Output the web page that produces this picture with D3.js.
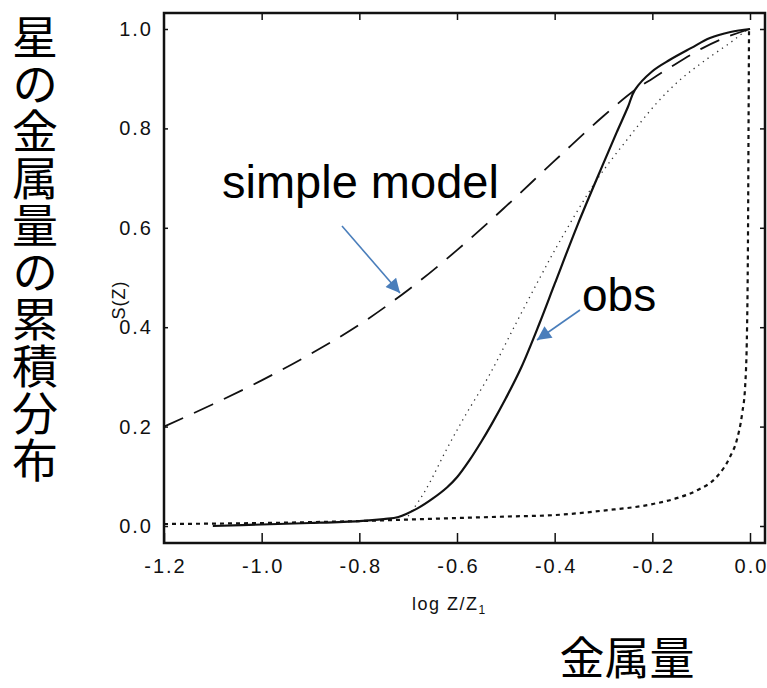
<!DOCTYPE html>
<html>
<head>
<meta charset="utf-8">
<script src="https://cdn.jsdelivr.net/npm/d3@7"></script>
<style>
  html, body { margin: 0; padding: 0; background: #fff; }
  svg { display: block; }
</style>
</head>
<body>
<svg id="chart" width="767" height="688"></svg>
<script>
// ---- data ----
const xTicks = [-1.2, -1.0, -0.8, -0.6, -0.4, -0.2, 0.0];
const xTickLabels = ["-1.2", "-1.0", "-0.8", "-0.6", "-0.4", "-0.2", "0.0"];
const yTicks = [0.0, 0.2, 0.4, 0.6, 0.8, 1.0];
const yTickLabels = ["0.0", "0.2", "0.4", "0.6", "0.8", "1.0"];

// observed (solid)
const obsX = [-1.10, -1.0, -0.9, -0.8, -0.75, -0.72, -0.68, -0.65, -0.62, -0.60, -0.574, -0.55, -0.529, -0.50, -0.468, -0.431, -0.40, -0.353, -0.30, -0.273, -0.25, -0.236, -0.20, -0.164, -0.12, -0.082, -0.04, 0.0];
const obsY = [0.0, 0.003, 0.006, 0.010, 0.014, 0.018, 0.036, 0.055, 0.078, 0.098, 0.133, 0.170, 0.205, 0.257, 0.320, 0.408, 0.487, 0.606, 0.730, 0.792, 0.843, 0.877, 0.915, 0.938, 0.962, 0.982, 0.994, 1.0];

// simple model (long dashes)
const simpleX = [-1.2, -1.1, -1.0, -0.9, -0.8, -0.7, -0.6, -0.5, -0.4, -0.3, -0.236, -0.2, -0.16, -0.1, -0.05, 0.0];
const simpleY = [0.200, 0.245, 0.293, 0.346, 0.405, 0.475, 0.555, 0.643, 0.735, 0.825, 0.877, 0.900, 0.925, 0.960, 0.983, 1.0];

// dotted model
const dotX = [-0.70, -0.677, -0.656, -0.622, -0.585, -0.533, -0.478, -0.43, -0.39, -0.314, -0.252, -0.191, -0.144, -0.096, -0.041, -0.01, 0.0];
const dotY = [0.020, 0.052, 0.087, 0.153, 0.219, 0.305, 0.410, 0.500, 0.572, 0.696, 0.777, 0.851, 0.897, 0.934, 0.972, 0.995, 1.0];

// short-dashed model
const shortX = [-1.2, -1.0, -0.8, -0.7, -0.6, -0.5, -0.4, -0.3, -0.2, -0.15, -0.108, -0.068, -0.041, -0.027, -0.016, -0.010, -0.006, -0.004, -0.003, -0.002];
const shortY = [0.004, 0.006, 0.010, 0.013, 0.016, 0.019, 0.022, 0.031, 0.044, 0.056, 0.072, 0.099, 0.139, 0.173, 0.227, 0.280, 0.400, 0.600, 0.800, 1.0];

// ---- layout ----
const svg = d3.select("#chart");
const x = d3.scaleLinear().domain([-1.2, 0.0]).range([164, 750]);
const y = d3.scaleLinear().domain([0, 1]).range([526, 29]);
const frame = { left: 164, right: 765, top: 13, bottom: 543 };
const tickFont = "'Liberation Sans', Arial, sans-serif";

// axes
const gx = svg.append("g").attr("transform", `translate(0,${frame.bottom})`)
  .call(d3.axisBottom(x).tickValues(xTicks).tickSizeInner(-10).tickSizeOuter(0).tickPadding(16)
    .tickFormat((d, i) => xTickLabels[i]));
const gxt = svg.append("g").attr("transform", `translate(0,${frame.top})`)
  .call(d3.axisTop(x).tickValues(xTicks.slice(1)).tickSizeInner(-7).tickSizeOuter(0).tickFormat(""));
const gy = svg.append("g").attr("transform", `translate(${frame.left},0)`)
  .call(d3.axisLeft(y).tickValues(yTicks).tickSizeInner(-4).tickSizeOuter(0).tickPadding(11)
    .tickFormat((d, i) => yTickLabels[i]));
const gyr = svg.append("g").attr("transform", `translate(${frame.right},0)`)
  .call(d3.axisRight(y).tickValues(yTicks).tickSizeInner(-5).tickSizeOuter(0).tickFormat(""));

[gx, gxt, gy, gyr].forEach(g => {
  g.select(".domain").remove();
  g.selectAll(".tick line").attr("stroke", "#111").attr("stroke-width", 1.5);
  g.selectAll(".tick text").attr("fill", "#111").style("font-family", tickFont)
    .style("font-size", "20px").style("letter-spacing", "2px");
});
gx.selectAll(".tick text").attr("x", 1);

// frame
svg.append("rect")
  .attr("x", frame.left).attr("y", frame.top)
  .attr("width", frame.right - frame.left).attr("height", frame.bottom - frame.top)
  .attr("fill", "none").attr("stroke", "#111").attr("stroke-width", 2.5);

// curves
const mk = (xs, ys) => xs.map((v, i) => [v, ys[i]]);
const smooth = d3.line().x(d => x(d[0])).y(d => y(d[1])).curve(d3.curveCatmullRom.alpha(0.5));
const mono = d3.line().x(d => x(d[0])).y(d => y(d[1])).curve(d3.curveMonotoneX);

svg.append("path").datum(mk(shortX, shortY)).attr("d", mono)
  .attr("fill", "none").attr("stroke", "#111").attr("stroke-width", 2.2)
  .attr("stroke-dasharray", "4 4");
svg.append("path").datum(mk(dotX, dotY)).attr("d", smooth)
  .attr("fill", "none").attr("stroke", "#333").attr("stroke-width", 1.3)
  .attr("stroke-dasharray", "1.3 4.5");
svg.append("path").datum(mk(simpleX, simpleY)).attr("d", smooth)
  .attr("fill", "none").attr("stroke", "#111").attr("stroke-width", 1.8)
  .attr("stroke-dasharray", "21 12");
svg.append("path").datum(mk(obsX, obsY)).attr("d", smooth)
  .attr("fill", "none").attr("stroke", "#111").attr("stroke-width", 2.2);

// axis titles
svg.append("text").attr("transform", "translate(125,300) rotate(-90)")
  .attr("text-anchor", "middle").style("font-family", tickFont).style("font-size", "18px")
  .style("letter-spacing", "1px").attr("fill", "#111").text("S(Z)");

const xl = svg.append("text").attr("x", 412).attr("y", 610)
  .style("font-family", tickFont).style("font-size", "18px").style("letter-spacing", "1.5px")
  .attr("fill", "#111");
xl.append("tspan").text("log Z/Z");
xl.append("tspan").attr("dy", 4).style("font-size", "12px").text("1");

// Japanese titles
svg.append("text").attr("x", 35).attr("y", 14)
  .style("writing-mode", "vertical-rl")
  .style("font-family", "'Noto Sans CJK JP', sans-serif").style("font-size", "46px")
  .style("letter-spacing", "1px").attr("fill", "#000").text("星の金属量の累積分布");

svg.append("text").attr("x", 627).attr("y", 675).attr("text-anchor", "middle")
  .style("font-family", "'Noto Sans CJK JP', sans-serif").style("font-size", "45px")
  .attr("fill", "#000").text("金属量");

// annotations
const annFont = "'Liberation Sans', Arial, sans-serif";
svg.append("text").attr("x", 222).attr("y", 198)
  .style("font-family", annFont).style("font-size", "47px").attr("fill", "#000").text("simple model");
svg.append("text").attr("x", 582).attr("y", 311)
  .style("font-family", annFont).style("font-size", "46px").attr("fill", "#000").text("obs");

// arrows
const blue = "#4a7ebb";
const defs = svg.append("defs");
defs.append("marker").attr("id", "ah").attr("viewBox", "0 0 10 10")
  .attr("refX", 10).attr("refY", 5).attr("markerWidth", 16).attr("markerHeight", 14)
  .attr("markerUnits", "userSpaceOnUse").attr("orient", "auto")
  .append("path").attr("d", "M0,0 L10,5 L0,10 Z").attr("fill", blue);

svg.append("line").attr("x1", 342).attr("y1", 226).attr("x2", 400).attr("y2", 293)
  .attr("stroke", blue).attr("stroke-width", 1.6).attr("marker-end", "url(#ah)");
svg.append("line").attr("x1", 580).attr("y1", 310).attr("x2", 537).attr("y2", 340)
  .attr("stroke", blue).attr("stroke-width", 1.6).attr("marker-end", "url(#ah)");
</script>
</body>
</html>
